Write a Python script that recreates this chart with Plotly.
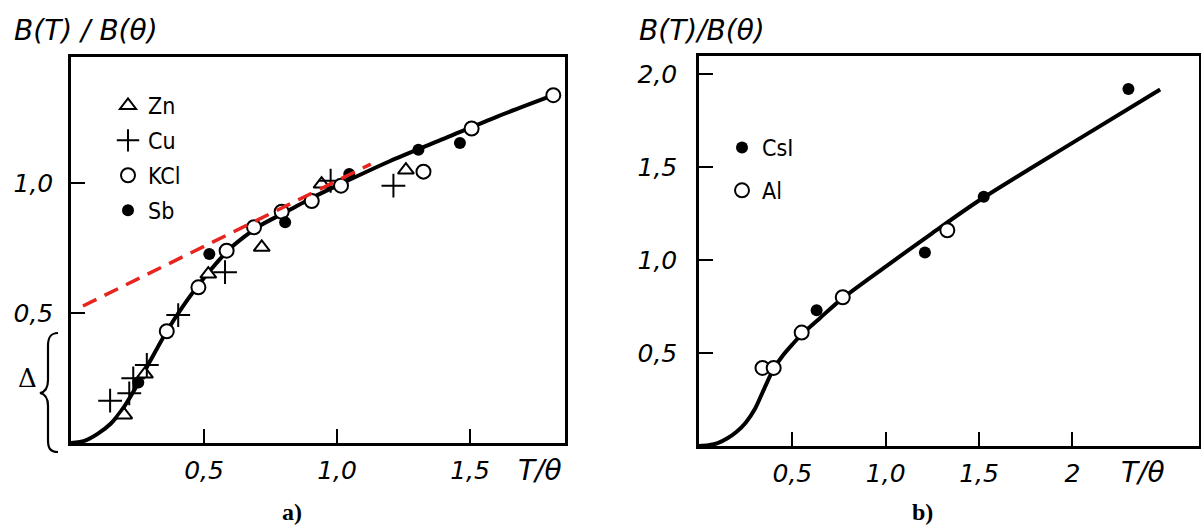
import plotly.graph_objects as go

# ---------------- data: panel a ----------------
zn_x = [0.20, 0.278, 0.516, 0.717, 0.942, 1.259]
zn_y = [0.108, 0.265, 0.650, 0.753, 0.996, 1.050]
cu_x = [0.147, 0.219, 0.234, 0.285, 0.403, 0.579, 0.976, 1.212]
cu_y = [0.163, 0.191, 0.249, 0.300, 0.492, 0.657, 1.009, 0.990]
kcl_x = [0.360, 0.479, 0.585, 0.688, 0.792, 0.905, 1.015, 1.325, 1.506, 1.813]
kcl_y = [0.430, 0.599, 0.740, 0.830, 0.890, 0.931, 0.990, 1.044, 1.210, 1.338]
sb_x = [0.253, 0.520, 0.805, 1.046, 1.306, 1.462]
sb_y = [0.233, 0.727, 0.849, 1.035, 1.128, 1.154]
curve_a_x = [0, 0.05, 0.1, 0.15, 0.2, 0.25, 0.3, 0.36, 0.42, 0.5, 0.6, 0.7, 0.8, 0.9, 1.0, 1.2, 1.4, 1.6, 1.813]
curve_a_y = [0, 0.008, 0.035, 0.075, 0.14, 0.225, 0.32, 0.43, 0.525, 0.635, 0.75, 0.83, 0.885, 0.94, 0.99, 1.085, 1.17, 1.255, 1.338]
asym_x = [0.045, 1.127]
asym_y = [0.527, 1.073]

# ---------------- data: panel b ----------------
csi_x = [0.63, 1.21, 1.525, 2.30]
csi_y = [0.73, 1.04, 1.34, 1.92]
al_x = [0.34, 0.40, 0.55, 0.77, 1.33]
al_y = [0.42, 0.42, 0.61, 0.80, 1.16]
curve_b_x = [0, 0.05, 0.1, 0.15, 0.2, 0.25, 0.3, 0.35, 0.4, 0.45, 0.5, 0.55, 0.65, 0.77, 1.0, 1.25, 1.5, 2.0, 2.47]
curve_b_y = [0, 0.004, 0.015, 0.04, 0.075, 0.125, 0.2, 0.31, 0.415, 0.488, 0.546, 0.60, 0.69, 0.795, 0.965, 1.145, 1.32, 1.63, 1.917]

# tick labels
a_xticks = [0.5, 1.0, 1.5]
a_xlabels = ["0,5", "1,0", "1,5"]
a_yticks = [0.5, 1.0]
a_ylabels = ["0,5", "1,0"]
b_xticks = [0.5, 1.0, 1.5, 2.0]
b_xlabels = ["0,5", "1,0", "1,5", "2"]
b_yticks = [0.5, 1.0, 1.5, 2.0]
b_ylabels = ["0,5", "1,0", "1,5", "2,0"]

W, H = 1201, 526
def px(x):
    return x / W
def py(y):
    return 1 - y / H

TICKFONT = dict(family="DejaVu Sans, Liberation Sans", size=25, color="black", style="italic")
LEGFONT = dict(family="DejaVu Sans Condensed, DejaVu Sans", size=23, color="black")

fig = go.Figure()

# panel a
fig.add_trace(go.Scatter(x=curve_a_x, y=curve_a_y, mode="lines", line=dict(color="black", width=4, shape="spline", smoothing=0.6),
                         showlegend=False, xaxis="x", yaxis="y", hoverinfo="skip"))
fig.add_trace(go.Scatter(x=zn_x, y=zn_y, mode="markers", name="Zn", legend="legend", legendgroup="zn",
                         marker=dict(symbol="triangle-up", size=14, color="white", line=dict(color="black", width=2)),
                         xaxis="x", yaxis="y"))
fig.add_trace(go.Scatter(x=cu_x, y=cu_y, mode="markers", name="Cu", legend="legend", legendgroup="cu",
                         marker=dict(symbol="cross-thin", size=17, color="black", line=dict(color="black", width=2)),
                         xaxis="x", yaxis="y"))
fig.add_trace(go.Scatter(x=kcl_x, y=kcl_y, mode="markers", name="KCl", legend="legend", legendgroup="kcl",
                         marker=dict(symbol="circle", size=14, color="white", line=dict(color="black", width=2)),
                         xaxis="x", yaxis="y"))
fig.add_trace(go.Scatter(x=sb_x, y=sb_y, mode="markers", name="Sb", legend="legend", legendgroup="sb",
                         marker=dict(symbol="circle", size=12, color="black", line=dict(color="black", width=0)),
                         xaxis="x", yaxis="y"))
fig.add_trace(go.Scatter(x=asym_x, y=asym_y, mode="lines", line=dict(color="#e8241e", width=3.5, dash="15px,9px"),
                         showlegend=False, xaxis="x", yaxis="y", hoverinfo="skip"))

# panel b
fig.add_trace(go.Scatter(x=curve_b_x, y=curve_b_y, mode="lines", line=dict(color="black", width=4, shape="spline", smoothing=0.8),
                         showlegend=False, xaxis="x2", yaxis="y2", hoverinfo="skip"))
fig.add_trace(go.Scatter(x=csi_x, y=csi_y, mode="markers", name="CsI", legend="legend2", legendgroup="csi",
                         marker=dict(symbol="circle", size=12, color="black", line=dict(color="black", width=0)),
                         xaxis="x2", yaxis="y2"))
fig.add_trace(go.Scatter(x=al_x, y=al_y, mode="markers", name="Al", legend="legend2", legendgroup="al",
                         marker=dict(symbol="circle", size=14, color="white", line=dict(color="black", width=2)),
                         xaxis="x2", yaxis="y2"))

axis_common = dict(showgrid=False, zeroline=False, showline=True, linecolor="black", linewidth=2.5, mirror=True,
                   ticks="inside", ticklen=14, tickwidth=2, tickcolor="black", tickfont=TICKFONT, automargin=False,
                   fixedrange=True)

fig.update_layout(
    width=W, height=H,
    margin=dict(l=0, r=0, t=0, b=0, pad=0),
    paper_bgcolor="white", plot_bgcolor="white",
    xaxis=dict(domain=[px(71), px(565)], range=[0, 1.857], tickvals=a_xticks, ticktext=a_xlabels,
               anchor="y", ticklabelstandoff=3, **axis_common),
    yaxis=dict(domain=[py(443), py(57)], range=[0, 1.485], tickvals=a_yticks, ticktext=a_ylabels,
               anchor="x", ticklabelstandoff=10, **axis_common),
    xaxis2=dict(domain=[px(699), px(1199)], range=[0, 2.678], tickvals=b_xticks, ticktext=b_xlabels,
                anchor="y2", ticklabelstandoff=3, **axis_common),
    yaxis2=dict(domain=[py(446), py(56)], range=[0, 2.097], tickvals=b_yticks, ticktext=b_ylabels,
                anchor="x2", ticklabelstandoff=14, **axis_common),
    legend=dict(x=px(108), y=py(84), xanchor="left", yanchor="top", bgcolor="rgba(0,0,0,0)",
                font=LEGFONT, tracegroupgap=2, borderwidth=0),
    legend2=dict(x=px(722), y=py(126), xanchor="left", yanchor="top", bgcolor="rgba(0,0,0,0)",
                 font=LEGFONT, tracegroupgap=10, borderwidth=0),
)

ann_font = dict(family="DejaVu Sans, Liberation Sans", size=28, color="black", style="italic")
annotations = [
    dict(text="B(T) / B(θ)", x=px(12), y=py(30), xanchor="left", yanchor="middle", font=ann_font),
    dict(text="B(T)/B(θ)", x=px(637), y=py(30), xanchor="left", yanchor="middle", font=ann_font),
    dict(text="T/θ", x=px(540), y=py(470), xanchor="center", yanchor="middle", font=ann_font),
    dict(text="T/θ", x=px(1143), y=py(472), xanchor="center", yanchor="middle", font=ann_font),
    dict(text="<b>a)</b>", x=px(292), y=py(512), xanchor="center", yanchor="middle",
         font=dict(family="Liberation Serif, DejaVu Serif", size=24, color="black")),
    dict(text="<b>b)</b>", x=px(922), y=py(512), xanchor="center", yanchor="middle",
         font=dict(family="Liberation Serif, DejaVu Serif", size=24, color="black")),
    dict(text="Δ", x=px(27), y=py(378), xanchor="center", yanchor="middle",
         font=dict(family="DejaVu Serif, Liberation Serif", size=26, color="black")),
]
for a in annotations:
    a.update(xref="paper", yref="paper", showarrow=False)
fig.update_layout(annotations=annotations)

# brace for Delta
def P(x, y):
    return f"{px(x):.5f},{py(y):.5f}"
brace = ("M " + P(58, 333) + " C " + P(50, 333) + " " + P(48, 338) + " " + P(48, 346) +
         " L " + P(48, 380) + " C " + P(48, 388) + " " + P(45, 392) + " " + P(40, 393) +
         " C " + P(45, 394) + " " + P(48, 398) + " " + P(48, 406) +
         " L " + P(48, 440) + " C " + P(48, 448) + " " + P(50, 452) + " " + P(58, 452))
fig.add_shape(type="path", path=brace, xref="paper", yref="paper", line=dict(color="black", width=2.2))

fig.write_html("out.html", config={"displayModeBar": False},
               post_script="document.body.style.margin='0';document.body.style.padding='0';"
                           "document.documentElement.style.overflow='hidden';")
